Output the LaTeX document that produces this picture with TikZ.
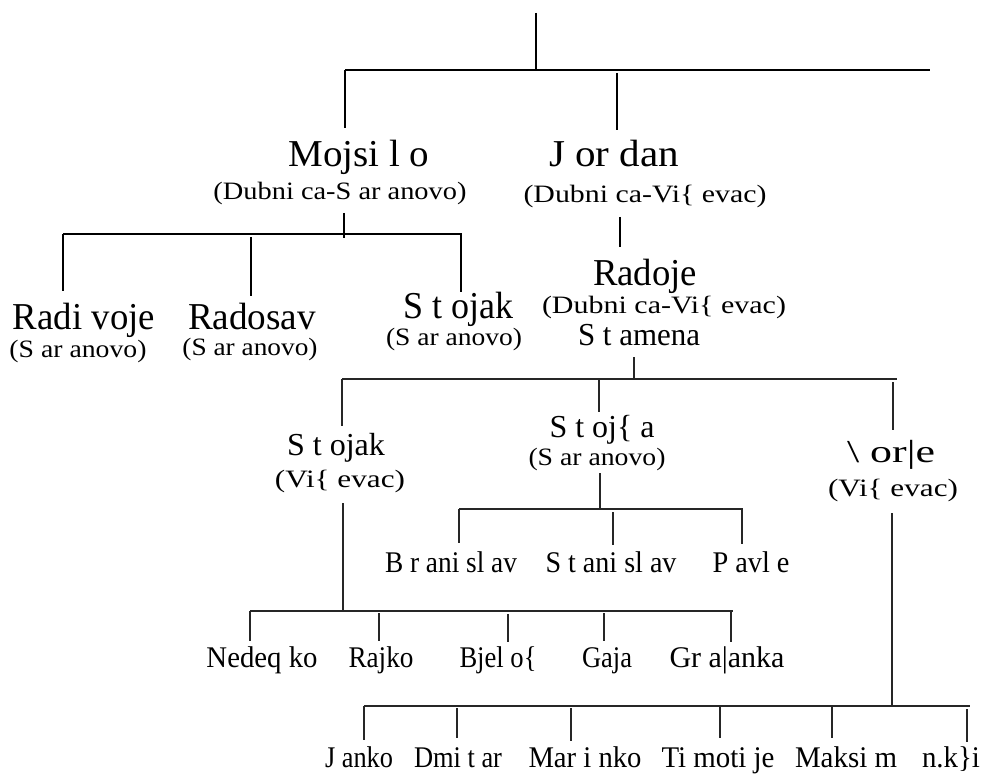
\documentclass[tikz,border=0pt]{standalone}
\usepackage{fontspec}
\setmainfont{Liberation Serif}
\usepackage{graphicx}
\newcommand{\fitw}[2]{\resizebox{#1pt}{\height}{#2}}
\begin{document}
\begin{tikzpicture}[x=1pt,y=-1pt,
  lbl/.style={inner sep=0pt, anchor=base},
  big/.style={lbl, font=\fontsize{38}{38}\selectfont},
  mid/.style={lbl, font=\fontsize{32}{32}\selectfont},
  low/.style={lbl, font=\fontsize{30}{30}\selectfont},
  sub/.style={lbl, font=\fontsize{25}{25}\selectfont},
  bus/.style={line width=2.6pt, draw=black},
  stem/.style={line width=1.6pt, draw=black},
  thinbus/.style={line width=1.6pt, draw=black!85},
  thinstem/.style={line width=1.3pt, draw=black!85}]
\useasboundingbox (0,0) rectangle (984,775);

% ---------- labels ----------
\node[big] (mojsilo) at (359,167) {\fitw{141}{Mojsi l o}};
\node[sub] (mojsiloS) at (340,200) {\fitw{253}{(Dubni ca-S ar anovo)}};
\node[big] (jordan) at (614,167) {\fitw{130}{J or dan}};
\node[sub] (jordanS) at (645,203) {\fitw{243}{(Dubni ca-Vi\{ evac)}};
\node[big] (radivoje) at (84,329) {\fitw{142}{Radi voje}};
\node[sub] (radivojeS) at (78,357) {\fitw{137}{(S ar anovo)}};
\node[big] (radosav) at (252,329) {\fitw{128}{Radosav}};
\node[sub] (radosavS) at (250,355) {\fitw{135}{(S ar anovo)}};
\node[big] (stojakA) at (458,318) {\fitw{110}{S t ojak}};
\node[sub] (stojakAS) at (454,345) {\fitw{136}{(S ar anovo)}};
\node[big] (radoje) at (645,286) {\fitw{104}{Radoje}};
\node[sub] (radojeS) at (664,313) {\fitw{244}{(Dubni ca-Vi\{ evac)}};
\node[mid] (stamena) at (639,345) {\fitw{122}{S t amena}};
\node[mid] (stojakB) at (336,455) {\fitw{98}{S t ojak}};
\node[sub] (stojakBS) at (340,487) {\fitw{130}{(Vi\{ evac)}};
\node[mid] (stojsa) at (602,437) {\fitw{105}{S t oj\{ a}};
\node[sub] (stojsaS) at (597,465) {\fitw{137}{(S ar anovo)}};
\node[mid] (djordje) at (891,462) {\fitw{88}{\textbackslash{} or\textbar e}};
\node[sub] (djordjeS) at (893,496) {\fitw{130}{(Vi\{ evac)}};
\node[low] (branislav) at (451,572) {\fitw{132}{B r ani sl av}};
\node[low] (stanislav) at (611,572) {\fitw{131}{S t ani sl av}};
\node[low] (pavle) at (751,572) {\fitw{77}{P avl e}};
\node[low] (nedeqko) at (262,667) {\fitw{111}{Nedeq ko}};
\node[low] (rajko) at (381,667) {\fitw{65}{Rajko}};
\node[low] (bjelos) at (498,667) {\fitw{77}{Bjel o\{}};
\node[low] (gaja) at (607,667) {\fitw{50}{Gaja}};
\node[low] (gracanka) at (727,667) {\fitw{115}{Gr a\textbar anka}};
\node[low] (janko) at (359,767) {\fitw{68}{J anko}};
\node[low] (dmitar) at (458,767) {\fitw{88}{Dmi t ar}};
\node[low] (marinko) at (585,767) {\fitw{113}{Mar i nko}};
\node[low] (timotije) at (718,767) {\fitw{113}{Ti moti je}};
\node[low] (maksim) at (846,767) {\fitw{102}{Maksi m}};
\node[low] (nkci) at (951,767) {\fitw{58}{n.k\}i}};

% ---------- top level ----------
\coordinate (r0) at (536,13);
\coordinate (r1) at (536,70);
\coordinate (tb1) at (345,70);
\coordinate (tb2) at (930,70);
\coordinate (mjTop) at (345,128);
\coordinate (joA) at (617,73);
\coordinate (joB) at (617,130);
\draw[stem] (r0) -- (r1);
\draw[bus] (tb1) -- (tb2);
\draw[stem] (tb1) -- (mjTop);
\draw[stem] (joA) -- (joB);

% ---------- Mojsilo's children ----------
\coordinate (mc0) at (344,213);
\coordinate (mc1) at (344,238);
\coordinate (mb1) at (63,234);
\coordinate (mb2) at (462,234);
\coordinate (rvTop) at (63,291);
\coordinate (rsA) at (251,237);
\coordinate (rsB) at (251,296);
\coordinate (skA) at (461,234);
\coordinate (skB) at (461,292);
\draw[stem] (mc0) -- (mc1);
\draw[bus, line width=2.2pt] (mb1) -- (mb2);
\draw[stem] (mb1) -- (rvTop);
\draw[stem] (rsA) -- (rsB);
\draw[stem] (skA) -- (skB);

% ---------- Jordan -> Radoje ----------
\coordinate (jrA) at (620,217);
\coordinate (jrB) at (620,247);
\draw[stem] (jrA) -- (jrB);

% ---------- Radoje's children ----------
\coordinate (stA) at (634,357);
\coordinate (stB) at (634,379);
\coordinate (sb1) at (342,379);
\coordinate (sb2) at (897,379);
\coordinate (sbkB) at (342,426);
\coordinate (sbsA) at (599,379);
\coordinate (sbsB) at (599,412);
\coordinate (sbdA) at (893,382);
\coordinate (sbdB) at (893,430);
\draw[thinstem] (stA) -- (stB);
\draw[thinbus] (sb1) -- (sb2);
\draw[thinstem] (sb1) -- (sbkB);
\draw[thinstem] (sbsA) -- (sbsB);
\draw[thinstem] (sbdA) -- (sbdB);

% ---------- Stojsa's children ----------
\coordinate (ssA) at (600,473);
\coordinate (ssB) at (600,509);
\coordinate (ssb1) at (459,509);
\coordinate (ssb2) at (743,509);
\coordinate (brB) at (459,543);
\coordinate (snA) at (613,512);
\coordinate (snB) at (613,545);
\coordinate (pvA) at (742,509);
\coordinate (pvB) at (742,544);
\draw[thinstem] (ssA) -- (ssB);
\draw[thinbus] (ssb1) -- (ssb2);
\draw[thinstem] (ssb1) -- (brB);
\draw[thinstem] (snA) -- (snB);
\draw[thinstem] (pvA) -- (pvB);

% ---------- Stojak (Visevac) children ----------
\coordinate (skcA) at (343,503);
\coordinate (skcB) at (343,611);
\coordinate (kb1) at (250,611);
\coordinate (kb2) at (733,611);
\coordinate (neB) at (250,641);
\coordinate (raA) at (379,613);
\coordinate (raB) at (379,641);
\coordinate (bjA) at (508,614);
\coordinate (bjB) at (508,642);
\coordinate (gaA) at (604,613);
\coordinate (gaB) at (604,641);
\coordinate (grA) at (731,611);
\coordinate (grB) at (731,642);
\draw[thinstem] (skcA) -- (skcB);
\draw[thinbus] (kb1) -- (kb2);
\draw[thinstem] (kb1) -- (neB);
\draw[thinstem] (raA) -- (raB);
\draw[thinstem] (bjA) -- (bjB);
\draw[thinstem] (gaA) -- (gaB);
\draw[thinstem] (grA) -- (grB);

% ---------- Djordje's children ----------
\coordinate (djA) at (892,513);
\coordinate (djB) at (892,707);
\coordinate (db1) at (364,706);
\coordinate (db2) at (970,706);
\coordinate (jaB) at (364,740);
\coordinate (dmA) at (457,708);
\coordinate (dmB) at (457,738);
\coordinate (maA) at (571,708);
\coordinate (maB) at (571,741);
\coordinate (tiA) at (720,706);
\coordinate (tiB) at (720,738);
\coordinate (mkA) at (832,706);
\coordinate (mkB) at (832,738);
\coordinate (nkA) at (967,709);
\coordinate (nkB) at (967,742);
\draw[thinstem] (djA) -- (djB);
\draw[thinbus] (db1) -- (db2);
\draw[thinstem] (db1) -- (jaB);
\draw[thinstem] (dmA) -- (dmB);
\draw[thinstem] (maA) -- (maB);
\draw[thinstem] (tiA) -- (tiB);
\draw[thinstem] (mkA) -- (mkB);
\draw[thinstem] (nkA) -- (nkB);
\end{tikzpicture}
\end{document}
